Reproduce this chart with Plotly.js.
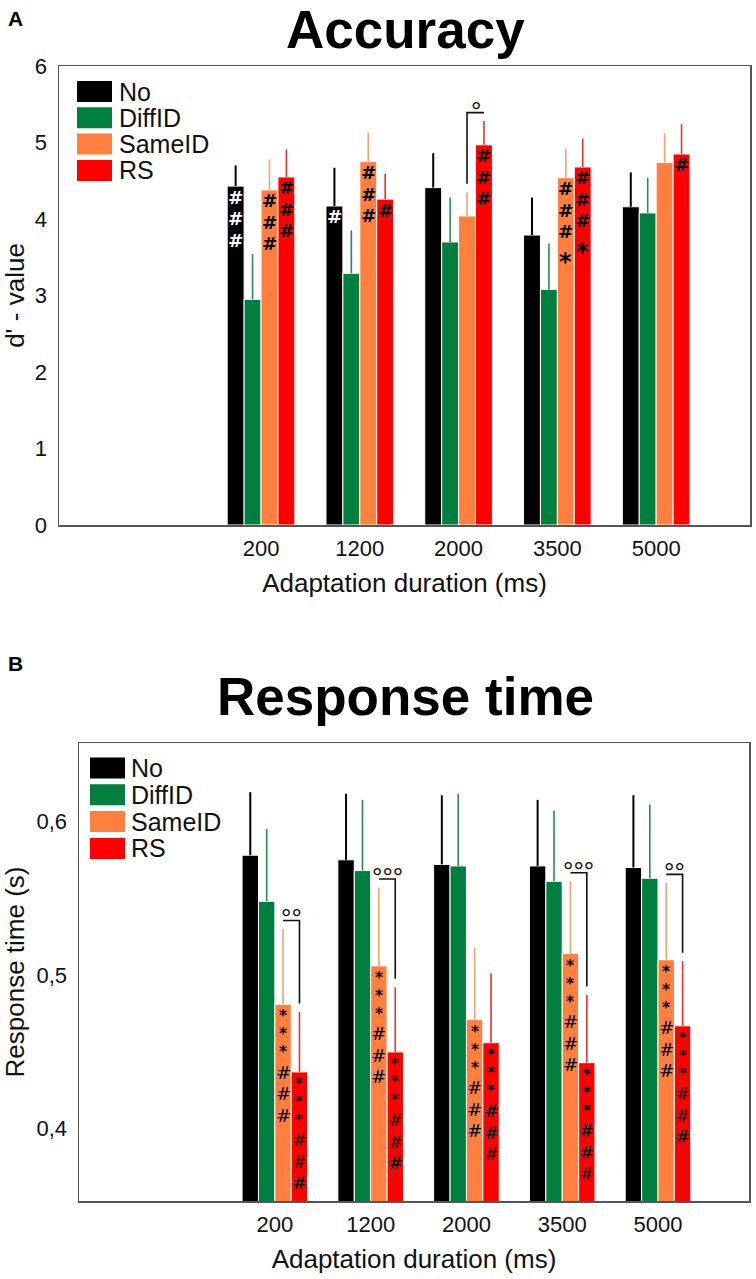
<!DOCTYPE html>
<html>
<head>
<meta charset="utf-8">
<script src="https://cdn.plot.ly/plotly-3.0.1.min.js"></script>
<style>html,body{margin:0;padding:0;background:#fff}#chart{width:756px;height:1279px}</style>
</head>
<body>
<div id="chart"></div>
<script>
// ---------------- DATA ----------------
const durations = ['200', '1200', '2000', '3500', '5000'];
const seriesNames = ['No', 'DiffID', 'SameID', 'RS'];
const barColors = ['#000000', '#007f3f', '#ff7f3f', '#ff0000'];
const errColors = ['#000000', '#2a8a55', '#f7a070', '#ee3030'];

// Panel A: accuracy (d')
const accNo     = [4.43, 4.17, 4.41, 3.79, 4.16];
const accDiffID = [2.95, 3.29, 3.70, 3.08, 4.08];
const accSameID = [4.38, 4.75, 4.04, 4.54, 4.74];
const accRS     = [4.55, 4.26, 4.97, 4.68, 4.85];
const accErrNo     = [0.27, 0.50, 0.45, 0.49, 0.45];
const accErrDiffID = [0.59, 0.56, 0.58, 0.60, 0.46];
const accErrSameID = [0.40, 0.38, 0.31, 0.38, 0.38];
const accErrRS     = [0.36, 0.33, 0.31, 0.37, 0.39];
const accMarksNo     = ['###', '#', '', '', ''];
const accMarksDiffID = ['', '', '', '', ''];
const accMarksSameID = ['###', '###', '', '###*', ''];
const accMarksRS     = ['###', '#', '###', '###*', '#'];
const accSig = ['', '', '°', '', ''];
const accTickVals = [0, 1, 2, 3, 4, 5, 6];
const accTickText = ['0', '1', '2', '3', '4', '5', '6'];

// Panel B: response time (s)
const rtNo     = [0.578, 0.575, 0.572, 0.571, 0.570];
const rtDiffID = [0.548, 0.568, 0.571, 0.561, 0.563];
const rtSameID = [0.481, 0.506, 0.471, 0.514, 0.510];
const rtRS     = [0.437, 0.450, 0.456, 0.443, 0.467];
const rtErrNo     = [0.041, 0.043, 0.045, 0.043, 0.047];
const rtErrDiffID = [0.047, 0.046, 0.047, 0.046, 0.048];
const rtErrSameID = [0.049, 0.051, 0.047, 0.047, 0.050];
const rtErrRS     = [0.039, 0.042, 0.045, 0.044, 0.042];
const rtMarksNo     = ['', '', '', '', ''];
const rtMarksDiffID = ['', '', '', '', ''];
const rtMarksSameID = ['***###', '***###', '***###', '***###', '***###'];
const rtMarksRS     = ['***###', '***###', '***###', '***###', '***###'];
const rtSig = ['°°', '°°°', '', '°°°', '°°'];
const rtTickVals = [0.4, 0.5, 0.6];
const rtTickText = ['0,4', '0,5', '0,6'];

// ---------------- GEOMETRY / STYLE ----------------
const W = 756, H = 1279;
const FONT = 'Liberation Sans, Arial, Helvetica, sans-serif';
const MARKFONT = 'DejaVu Sans, Liberation Sans, sans-serif';
const xRange = [-2.045, 4.95];
const BARGAP = 0.315;
const barW = (1 - BARGAP) / seriesNames.length;
const xs = durations.map((d, i) => i);

const panels = [
  { px: {l: 59, r: 750, t: 66, b: 525}, yrange: [0, 6], xa: 'x', ya: 'y',
    vals: [accNo, accDiffID, accSameID, accRS],
    errs: [accErrNo, accErrDiffID, accErrSameID, accErrRS],
    marks: [accMarksNo, accMarksDiffID, accMarksSameID, accMarksRS],
    sig: accSig, tickVals: accTickVals, tickText: accTickText,
    title: 'Accuracy', titleY: 29.6, panel: 'A', panelY: 18.5,
    ytitle: "d' - value",
    legend: {x0: 77, x1: 112, y0: 91.5, dy: 26.3, tx: 118},
    ms: {hashBold: true, starBold: true, hash: 18.4, star: 24, first: 11, hh: 21.5, ss: 18, hs: 26, sh: 23} },
  { px: {l: 79, r: 749, t: 743, b: 1201}, yrange: [0.353, 0.651], xa: 'x2', ya: 'y2',
    vals: [rtNo, rtDiffID, rtSameID, rtRS],
    errs: [rtErrNo, rtErrDiffID, rtErrSameID, rtErrRS],
    marks: [rtMarksNo, rtMarksDiffID, rtMarksSameID, rtMarksRS],
    sig: rtSig, tickVals: rtTickVals, tickText: rtTickText,
    title: 'Response time', titleY: 696.6, panel: 'B', panelY: 663,
    ytitle: 'Response time (s)',
    legend: {x0: 90, x1: 125, y0: 768, dy: 26.8, tx: 130},
    ms: {hashBold: false, starBold: true, hash: 18.4, star: 15.3, first: 9, hh: 21.5, ss: 18, hs: 26, sh: 23} }
];

const pX = x => x / W;
const pY = y => 1 - y / H;

const traces = [];
const annotations = [];
const shapes = [];
const layout = {
  width: W, height: H,
  margin: {l: 0, r: 0, t: 0, b: 0},
  paper_bgcolor: '#ffffff', plot_bgcolor: '#ffffff',
  barmode: 'group', bargap: BARGAP, bargroupgap: 0,
  showlegend: false,
  font: {family: FONT, color: '#111111', size: 22},
  annotations: annotations, shapes: shapes
};

panels.forEach((P, pi) => {
  const xaName = pi === 0 ? 'xaxis' : 'xaxis2';
  const yaName = pi === 0 ? 'yaxis' : 'yaxis2';
  const ppu = (P.px.b - P.px.t) / (P.yrange[1] - P.yrange[0]);

  layout[xaName] = {
    domain: [pX(P.px.l), pX(P.px.r)], anchor: P.ya, range: xRange,
    tickmode: 'array', tickvals: xs, ticktext: durations, ticks: '',
    showline: true, mirror: true, linecolor: '#555555', linewidth: 1.5,
    showgrid: false, zeroline: false, fixedrange: true,
    tickfont: {family: FONT, size: 22, color: '#111111'},
    ticklabelstandoff: 3,
    title: {text: 'Adaptation duration (ms)', font: {family: FONT, size: 26, color: '#111111'}, standoff: 14}
  };
  layout[yaName] = {
    domain: [pY(P.px.b), pY(P.px.t)], anchor: P.xa, range: P.yrange,
    tickmode: 'array', tickvals: P.tickVals, ticktext: P.tickText, ticks: '',
    showline: true, mirror: true, linecolor: '#555555', linewidth: 1.5,
    showgrid: false, zeroline: false, fixedrange: true,
    tickfont: {family: FONT, size: 22, color: '#111111'},
    ticklabelstandoff: 6,
    title: {text: P.ytitle, font: {family: FONT, size: 26, color: '#111111'}, standoff: 10}
  };

  // bars with upper error bars
  seriesNames.forEach((name, si) => {
    traces.push({
      type: 'bar', name: name, x: xs, y: P.vals[si], xaxis: P.xa, yaxis: P.ya,
      marker: {color: barColors[si], line: {color: '#ffffff', width: 1}},
      error_y: {type: 'data', symmetric: false, array: P.errs[si],
                arrayminus: P.errs[si].map(() => 0),
                color: errColors[si], thickness: si === 0 ? 2 : 1.6, width: 0},
      hoverinfo: 'skip', showlegend: false
    });
  });

  // significance symbols stacked inside the bars, one small text per symbol
  const S = P.ms;
  seriesNames.forEach((name, si) => {
    P.marks[si].forEach((str, g) => {
      let off = 0, prev = null;
      for (const ch of str) {
        if (prev === null) off = S.first;
        else if (prev === '#' && ch === '#') off += S.hh;
        else if (prev === '*' && ch === '*') off += S.ss;
        else if (prev === '#' && ch === '*') off += S.hs;
        else off += S.sh;
        const isStar = ch === '*';
        const fs = isStar ? S.star : S.hash;
        const corr = isStar ? 0.2 * fs : 0;
        const bold = isStar ? S.starBold : S.hashBold;
        annotations.push({
          xref: P.xa, yref: P.ya, x: g + (si - 1.5) * barW, y: P.vals[si][g],
          text: bold ? '<b>' + ch + '</b>' : ch, showarrow: false,
          xanchor: 'center', yanchor: 'middle', yshift: -off - corr,
          borderwidth: 0, borderpad: 0,
          font: {family: MARKFONT, size: fs, color: si === 0 ? '#ffffff' : '#000000'}
        });
        prev = ch;
      }
    });
  });

  // brackets SameID vs RS
  P.sig.forEach((sym, g) => {
    if (!sym) return;
    const o = P.vals[2][g] + P.errs[2][g];
    const r = P.vals[3][g] + P.errs[3][g];
    const xo = g + 0.5 * barW, xr = g + 1.5 * barW;
    const hi = Math.max(o, r) + 8.5 / ppu;
    const legX = o < r ? xo : xr;
    const otherX = o < r ? xr : xo;
    const legLo = Math.min(o, r) + 8.5 / ppu;
    shapes.push({
      type: 'path', xref: P.xa, yref: P.ya,
      path: `M ${legX},${legLo} L ${legX},${hi} L ${otherX},${hi}`,
      line: {color: '#111111', width: 1.6}
    });
    annotations.push({
      xref: P.xa, yref: P.ya, x: g + barW, y: hi, text: sym, showarrow: false,
      xanchor: 'center', yanchor: 'middle', yshift: 8 - 0.23 * 26,
      borderwidth: 0, borderpad: 0,
      font: {family: FONT, size: 26, color: '#111111'}
    });
  });

  // legend drawn as swatches and labels
  seriesNames.forEach((name, si) => {
    const cy = P.legend.y0 + si * P.legend.dy;
    shapes.push({
      type: 'rect', xref: 'paper', yref: 'paper',
      x0: pX(P.legend.x0), x1: pX(P.legend.x1),
      y0: pY(cy + 10.5), y1: pY(cy - 10.5),
      fillcolor: barColors[si], line: {width: 0}
    });
    annotations.push({
      xref: 'paper', yref: 'paper', x: pX(P.legend.tx), y: pY(cy),
      xanchor: 'left', yanchor: 'middle', showarrow: false, text: name,
      borderpad: 0,
      font: {family: FONT, size: 25, color: '#111111'}
    });
  });

  // chart title and panel letter
  annotations.push({
    xref: 'paper', yref: 'paper', x: pX(405), y: pY(P.titleY),
    xanchor: 'center', yanchor: 'middle', showarrow: false,
    text: '<b>' + P.title + '</b>', font: {family: FONT, size: 53, color: '#000000'}
  });
  annotations.push({
    xref: 'paper', yref: 'paper', x: pX(6), y: pY(P.panelY),
    xanchor: 'left', yanchor: 'middle', showarrow: false,
    text: '<b>' + P.panel + '</b>', font: {family: FONT, size: 21, color: '#000000'}
  });
});

Plotly.newPlot('chart', traces, layout, {staticPlot: true, displayModeBar: false});
</script>
</body>
</html>
